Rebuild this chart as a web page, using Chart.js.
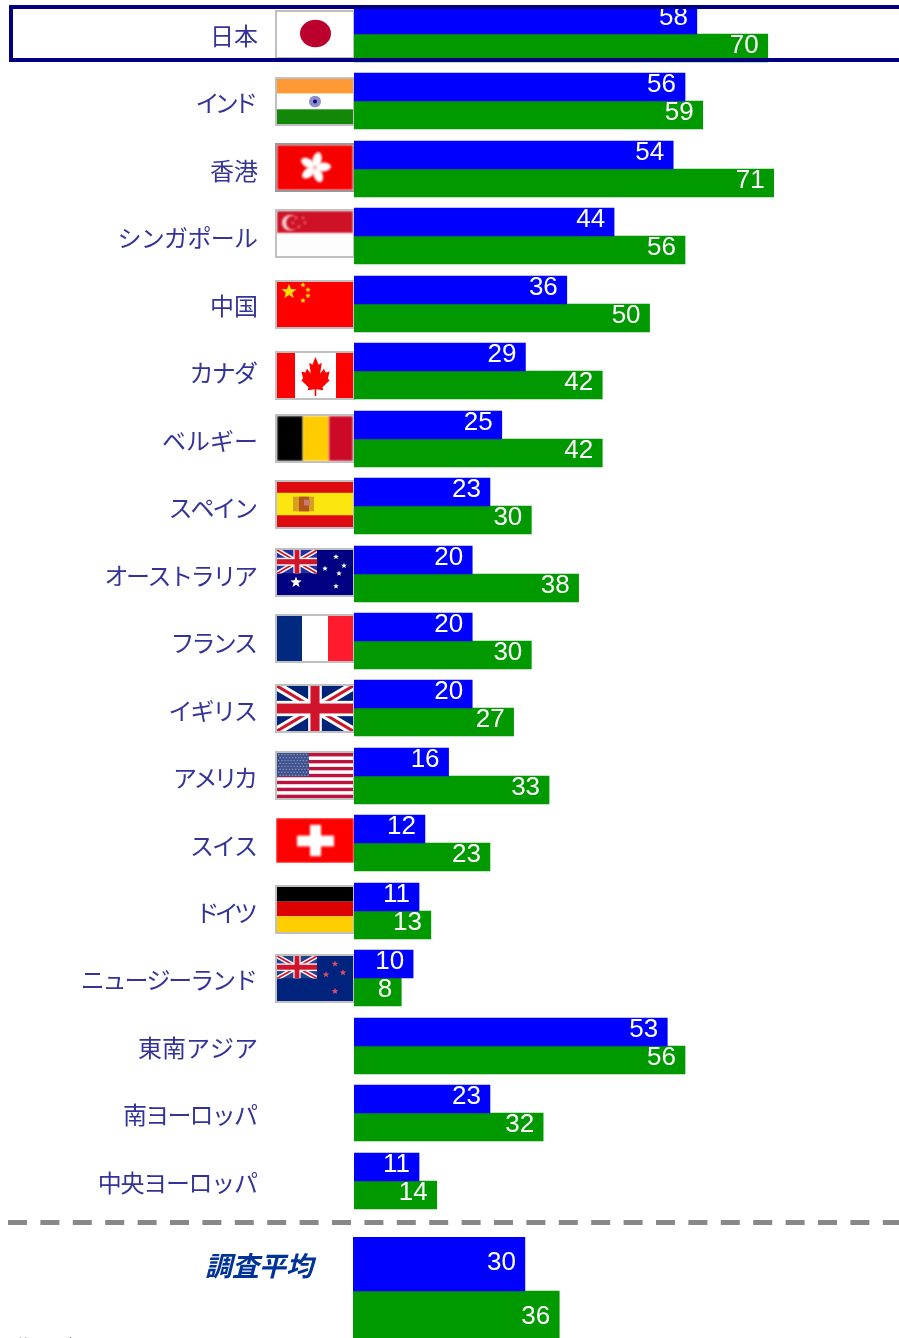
<!DOCTYPE html>
<html>
<head>
<meta charset="utf-8">
<script src="https://cdn.jsdelivr.net/npm/chart.js@4"></script>
<style>
html, body { margin: 0; padding: 0; background: #fff; overflow: hidden; height: 1338px; }
canvas { position: absolute; left: 0; }
#rows { top: 0; }
#avg { top: 1237px; }
#note { position: absolute; left: 18px; top: 1333px; font: 15px "Noto Sans CJK JP"; color: #666; }
</style>
</head>
<body>
<canvas id="rows" width="899" height="1237"></canvas>
<canvas id="avg" width="899" height="108"></canvas>
<div id="note">注：調査</div>
<script>
const categories = ['日本', 'インド', '香港', 'シンガポール', '中国', 'カナダ', 'ベルギー', 'スペイン', 'オーストラリア', 'フランス', 'イギリス', 'アメリカ', 'スイス', 'ドイツ', 'ニュージーランド', '東南アジア', '南ヨーロッパ', '中央ヨーロッパ'];
const blueValues = [58, 56, 54, 44, 36, 29, 25, 23, 20, 20, 20, 16, 12, 11, 10, 53, 23, 11];
const greenValues = [70, 59, 71, 56, 50, 42, 42, 30, 38, 30, 27, 33, 23, 13, 8, 56, 32, 14];
const avgCategory = ['調査平均'];
const avgBlue = [30];
const avgGreen = [36];

const BLUE = '#0000ff';
const GREEN = '#009900';

// the kana in the original sit tighter than this font, px per character
const labelTracking = [0, -4.7, 0, -0.7, 0, -1.7, 0, -2.2, -2.4, -2.8, -2.2, -3.7, -2, -4.7, -2.1, 0, -1.8, -1.3];
// the flags do not follow the rows exactly
const flagNudge = [0, 0, -2, -3, 0, 4, -1, -2, -2, -3, 0, -1, -3, -2, 0];

function rect(c, color, x, y, w, h) {
    c.fillStyle = color;
    c.fillRect(x, y, w, h);
}

function star(c, x, y, r, color) {
    c.fillStyle = color;
    c.beginPath();
    for (let i = 0; i < 10; i++) {
        let rad = i % 2 ? r * 0.42 : r;
        let a = -Math.PI / 2 + i * Math.PI / 5;
        c.lineTo(x + rad * Math.cos(a), y + rad * Math.sin(a));
    }
    c.closePath();
    c.fill();
}

function unionJack(c, w, h, blue) {
    rect(c, blue, 0, 0, w, h);
    c.strokeStyle = '#fff';
    c.lineWidth = h / 5;
    c.beginPath();
    c.moveTo(0, 0); c.lineTo(w, h);
    c.moveTo(w, 0); c.lineTo(0, h);
    c.stroke();
    c.strokeStyle = '#cf142b';
    c.lineWidth = h / 14;
    c.stroke();
    rect(c, '#fff', w * 0.41, 0, w * 0.18, h);
    rect(c, '#fff', 0, h * 0.33, w, h * 0.34);
    rect(c, '#cf142b', w * 0.44, 0, w * 0.12, h);
    rect(c, '#cf142b', 0, h * 0.39, w, h * 0.22);
}

// each flag is drawn in a 76x46 box
const flagPainters = {
    '日本': c => {
        rect(c, '#fff', 0, 0, 76, 46);
        c.fillStyle = '#bc002d';
        c.beginPath();
        c.ellipse(38.5, 22, 15.5, 14, 0, 0, Math.PI * 2);
        c.fill();
    },
    'インド': c => {
        rect(c, '#ff9933', 0, 0, 76, 15);
        rect(c, '#fff', 0, 15, 76, 16);
        rect(c, '#138808', 0, 31, 76, 15);
        c.fillStyle = '#8f8fc8';
        c.beginPath(); c.arc(38, 23, 6, 0, Math.PI * 2); c.fill();
        c.fillStyle = '#000080';
        c.beginPath(); c.arc(38, 23, 2, 0, Math.PI * 2); c.fill();
    },
    '香港': c => {
        rect(c, '#f60000', 0, 0, 76, 46);
        for (let i = 0; i < 5; i++) {
            let a = -Math.PI / 2 + i * Math.PI * 2 / 5;
            c.fillStyle = '#fff';
            c.beginPath();
            c.ellipse(38 + 8 * Math.cos(a + 0.25), 23 + 8 * Math.sin(a + 0.25), 8, 4.5, a + 0.25, 0, Math.PI * 2);
            c.fill();
        }
        c.fillStyle = '#f8b0b0';
        c.beginPath(); c.arc(38, 23, 2, 0, Math.PI * 2); c.fill();
    },
    'シンガポール': c => {
        rect(c, '#ce1126', 0, 0, 76, 23);
        rect(c, '#fdfdfd', 0, 23, 76, 23);
        c.fillStyle = '#f8d8dc';
        c.beginPath(); c.arc(13, 12, 8, 0, Math.PI * 2); c.fill();
        c.fillStyle = '#ce1126';
        c.beginPath(); c.arc(16.5, 12, 7.5, 0, Math.PI * 2); c.fill();
        [[19, 7], [26, 7], [16, 12], [28, 12], [22, 16]].forEach(p => star(c, p[0], p[1], 2, '#ec8090'));
    },
    '中国': c => {
        rect(c, '#ff0000', 0, 0, 76, 46);
        star(c, 12, 10, 8, '#ffde00');
        [[26, 3], [31, 8], [31, 14], [26, 19]].forEach(p => star(c, p[0], p[1], 3, '#ffde00'));
    },
    'カナダ': c => {
        rect(c, '#fff', 0, 0, 76, 46);
        rect(c, '#ff0000', 0, 0, 18, 46);
        rect(c, '#ff0000', 59, 0, 17, 46);
        c.save();
        c.translate(38.5, 0);
        c.scale(0.78, 1);
        c.translate(-38, 0);
        c.fillStyle = '#ff0000';
        c.beginPath();
        [[38, 4], [42, 12], [46, 10], [44, 21], [49, 16], [51, 20], [56, 19], [54, 26], [56, 28], [47, 35], [48, 38], [39, 37], [39, 44], [37, 44], [37, 37], [28, 38], [29, 35], [20, 28], [22, 26], [20, 19], [25, 20], [27, 16], [32, 21], [30, 10], [34, 12]]
            .forEach(p => c.lineTo(p[0], p[1]));
        c.closePath();
        c.fill();
        c.restore();
    },
    'ベルギー': c => {
        rect(c, '#000', 0, 0, 26, 46);
        rect(c, '#ffcc00', 26, 0, 26, 46);
        rect(c, '#cc0a28', 52, 0, 24, 46);
    },
    'スペイン': c => {
        rect(c, '#dd0a12', 0, 0, 76, 46);
        rect(c, '#fbe610', 0, 11, 76, 23);
        rect(c, '#d8a020', 16, 15, 21, 15);
        rect(c, '#b4541a', 22, 15, 10, 15);
        rect(c, '#c87c70', 27, 18, 6, 6);
    },
    'オーストラリア': c => {
        rect(c, '#000080', 0, 0, 76, 46);
        c.save();
        c.beginPath(); c.rect(0, 0, 40, 24); c.clip();
        unionJack(c, 40, 24, '#2030a0');
        c.restore();
        star(c, 19, 33, 6, '#fff');
        [[59, 7], [67, 16], [48, 19], [59, 37], [62, 24]].forEach(p => star(c, p[0], p[1], 3, '#fff'));
    },
    'フランス': c => {
        rect(c, '#002a80', 0, 0, 25, 46);
        rect(c, '#fff', 25, 0, 26, 46);
        rect(c, '#ff1a2e', 51, 0, 25, 46);
    },
    'イギリス': c => unionJack(c, 76, 46, '#00237a'),
    'アメリカ': c => {
        rect(c, '#fff', 0, 0, 76, 46);
        for (let i = 0; i < 7; i++) rect(c, '#bb133e', 0, i * 7.1, 76, 3.5);
        rect(c, '#3c4f8c', 0, 0, 32, 24);
        c.fillStyle = '#8a98c0';
        for (let r = 0; r < 8; r++) {
            for (let s = 0; s < 10; s++) c.fillRect(1 + s * 3.1 + (r % 2) * 1.5, 1 + r * 3, 1.4, 1.4);
        }
    },
    'スイス': c => {
        rect(c, '#ff0000', -1, 0, 78, 46);
        rect(c, '#fff', 20, 18, 37, 11);
        rect(c, '#fff', 33, 7, 11, 32);
    },
    'ドイツ': c => {
        rect(c, '#000', 0, 0, 76, 15);
        rect(c, '#dd0000', 0, 15, 76, 15);
        rect(c, '#ffce00', 0, 30, 76, 16);
    },
    'ニュージーランド': c => {
        rect(c, '#00247d', 0, 0, 76, 46);
        c.save();
        c.beginPath(); c.rect(0, 0, 40, 23); c.clip();
        unionJack(c, 40, 23, '#2a3f8a');
        c.restore();
        [[58, 8], [49, 19], [66, 17], [58, 36]].forEach(p => star(c, p[0], p[1], 3.5, '#d8506a'));
    }
};

const softFlags = { '香港': 'blur(1.2px)', 'スイス': 'blur(1.2px)', 'ベルギー': 'blur(0.8px)', 'シンガポール': 'blur(0.8px)' };

// flags sit left of the zero line, under the bars
const flagPlugin = {
    id: 'flags',
    beforeDatasetsDraw(chart) {
        let c = chart.ctx;
        let y = chart.scales.y;
        categories.forEach((name, i) => {
            let paint = flagPainters[name];
            if (!paint) return;
            let top = Math.round(y.getPixelForTick(i)) - 22 + flagNudge[i];
            c.save();
            c.translate(277, top);
            c.save();
            c.beginPath();
            c.rect(name === 'スイス' ? -1 : 0, 0, 78, 45);
            c.clip();
            c.scale(1, 45 / 46);
            c.filter = softFlags[name] || 'blur(0.5px)';
            paint(c);
            c.restore();
            if (name !== 'スイス') {
                c.strokeStyle = name === '香港' ? '#999999' : '#c0c0c0';
                c.lineWidth = 2;
                c.strokeRect(-1, -1, 78, 47);
            }
            c.restore();
        });
    }
};

// axis labels go through the y scale, drawn here because ticks cannot take per-label tracking
function labelPlugin(font, color, right, tracking, drop) {
    return {
        id: 'rowLabels',
        afterDraw(chart) {
            let c = chart.ctx;
            let y = chart.scales.y;
            c.save();
            c.font = font;
            c.fillStyle = color;
            c.textAlign = 'right';
            c.textBaseline = 'middle';
            chart.data.labels.forEach((label, i) => {
                c.letterSpacing = tracking[i] + 'px';
                c.fillText(label, right + tracking[i], y.getPixelForTick(i) + drop);
            });
            c.restore();
        }
    };
}

// value sits inside the bar end, text a bit above the bar middle
function valueLabelPlugin(lift) {
    return {
        id: 'valueLabels',
        afterDatasetsDraw(chart) {
            let c = chart.ctx;
            c.save();
            c.fillStyle = '#fff';
            c.font = '26px "Liberation Sans"';
            c.textAlign = 'right';
            c.textBaseline = 'middle';
            chart.data.datasets.forEach((ds, d) => {
                chart.getDatasetMeta(d).data.forEach((bar, i) => {
                    c.fillText(ds.data[i], bar.x - 9, bar.y - lift);
                });
            });
            c.restore();
        }
    };
}

// crisp bars: pull each bar onto whole pixels
const snapPlugin = {
    id: 'snap',
    afterDatasetsUpdate(chart) {
        chart.data.datasets.forEach((ds, d) => {
            chart.getDatasetMeta(d).data.forEach(bar => { bar.y = Math.round(bar.y); });
        });
    }
};

const framePlugin = {
    id: 'frame',
    afterDraw(chart) {
        let c = chart.ctx;
        c.save();
        // highlight box round the first row
        c.strokeStyle = '#000080';
        c.lineWidth = 4;
        c.strokeRect(11, 7, 900, 53);
        // divider above the survey average
        c.strokeStyle = '#888888';
        c.lineWidth = 5;
        c.setLineDash([19, 13.4]);
        c.beginPath();
        c.moveTo(8, 1222.5);
        c.lineTo(899, 1222.5);
        c.stroke();
        c.restore();
    }
};

function barOptions(axisMax, axisWidth, bottomPad) {
    return {
        indexAxis: 'y',
        responsive: false,
        animation: false,
        events: [],
        layout: { padding: { left: 0, right: 0, top: 0, bottom: bottomPad } },
        plugins: { legend: { display: false }, tooltip: { enabled: false } },
        scales: {
            x: { display: false, min: 0, max: axisMax },
            y: {
                grid: { display: false, drawTicks: false },
                border: { display: false },
                afterFit: scale => {
                    scale.width = axisWidth;
                    scale.paddingTop = 0;
                    scale.paddingBottom = 0;
                },
                ticks: { display: false, autoSkip: false }
            }
        }
    };
}

new Chart(document.getElementById('rows'), {
    type: 'bar',
    data: {
        labels: categories,
        datasets: [
            { data: blueValues, backgroundColor: BLUE, barThickness: 28, borderWidth: 0 },
            { data: greenValues, backgroundColor: GREEN, barThickness: 28, borderWidth: 0 }
        ]
    },
    options: barOptions(92.2, 354, 22.5),
    plugins: [
        snapPlugin, flagPlugin, valueLabelPlugin(2),
        labelPlugin('24px "Noto Sans CJK JP"', '#333399', 258, labelTracking, 2),
        framePlugin
    ]
});

new Chart(document.getElementById('avg'), {
    type: 'bar',
    data: {
        labels: avgCategory,
        datasets: [
            { data: avgBlue, backgroundColor: BLUE, barThickness: 54, borderWidth: 0 },
            { data: avgGreen, backgroundColor: GREEN, barThickness: 54, borderWidth: 0 }
        ]
    },
    options: barOptions(95.3, 353, 0),
    plugins: [
        snapPlugin, valueLabelPlugin(1),
        labelPlugin('italic bold 27px "Noto Sans CJK JP"', '#003399', 313, [0], -25)
    ]
});
</script>
</body>
</html>
